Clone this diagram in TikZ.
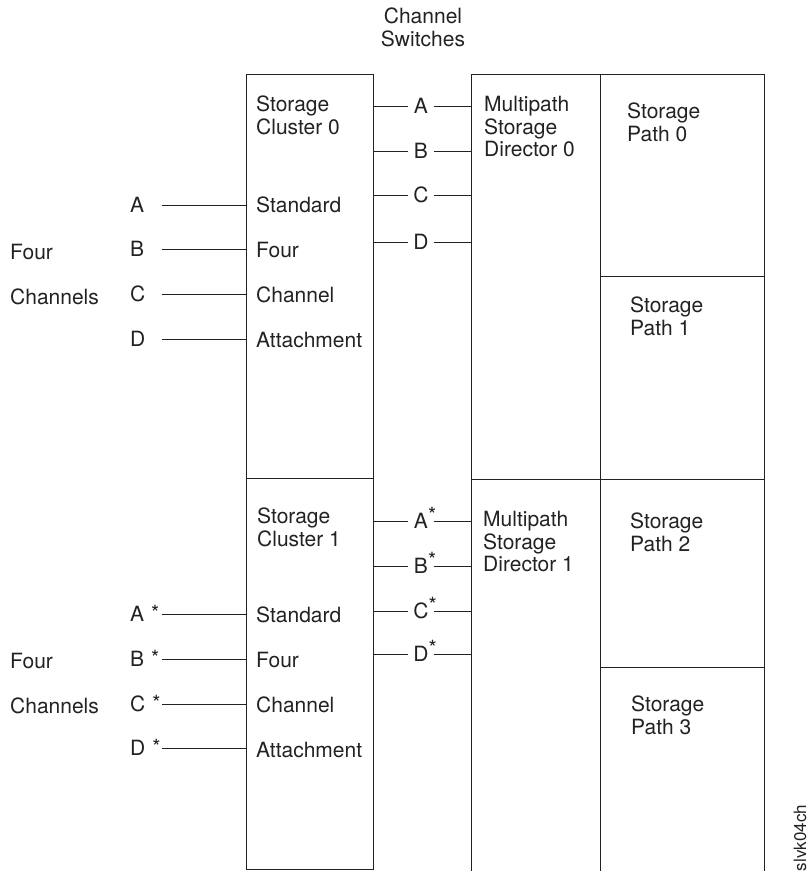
\documentclass[tikz,border=0pt]{standalone}
\usepackage{fontspec}
\setmainfont{TeX Gyre Heros}
\definecolor{ink}{HTML}{222222}
\begin{document}
\begin{tikzpicture}[x=1pt,y=-1pt,
  frame/.style={draw=ink, line width=1.1pt, inner sep=0pt, anchor=north west},
  wire/.style={draw=ink, line width=1pt},
  lbl/.style={text=ink, inner sep=0pt, font=\fontsize{21}{22.5}\selectfont,
              anchor=west, text height=15pt, text depth=0pt},
  blk/.style={text=ink, inner sep=0pt, font=\fontsize{21}{22.5}\selectfont,
              anchor=north west, align=left},
  chl/.style={lbl, text width=32pt, align=left},
  sw/.style={lbl, anchor=center, inner xsep=5.5pt}]
\useasboundingbox (0,0) rectangle (809,871);

% title over the switch column
\node[blk, anchor=north, align=center] (title) at (423,8) {Channel\\Switches};

% storage clusters
\node[frame, minimum width=127pt, minimum height=404pt] (cl0) at (246,74) {};
\node[frame, minimum width=127pt, minimum height=391pt] (cl1) at (246,478) {};
% storage directors
\node[frame, minimum width=129pt, minimum height=405pt] (dir0) at (471,74) {};
\node[frame, minimum width=129pt, minimum height=393pt] (dir1) at (471,479) {};
% storage paths
\node[frame, minimum width=164pt, minimum height=202pt] (sp0) at (600,74) {};
\node[frame, minimum width=164pt, minimum height=203pt] (sp1) at (600,276) {};
\node[frame, minimum width=164pt, minimum height=188pt] (sp2) at (600,479) {};
\node[frame, minimum width=164pt, minimum height=205pt] (sp3) at (600,667) {};

% box captions
\node[blk] (cl0t) at (256,96) {Storage\\Cluster 0};
\node[blk] (cl1t) at (257,508) {Storage\\Cluster 1};
\node[blk] (dir0t) at (484,96) {Multipath\\Storage\\Director 0};
\node[blk] (dir1t) at (483,511) {Multipath\\Storage\\Director 1};
\node[blk] (sp0t) at (627,103) {Storage\\Path 0};
\node[blk] (sp1t) at (630,297) {Storage\\Path 1};
\node[blk] (sp2t) at (630,513) {Storage\\Path 2};
\node[blk] (sp3t) at (631,696) {Storage\\Path 3};

% attachment captions inside the clusters
\node[lbl] (st0) at (256,205) {Standard};
\node[lbl] (fo0) at (256,250) {Four};
\node[lbl] (ch0) at (256,295) {Channel};
\node[lbl] (at0) at (256,340) {Attachment};
\node[lbl] (st1) at (256,615) {Standard};
\node[lbl] (fo1) at (256,660) {Four};
\node[lbl] (ch1) at (256,705) {Channel};
\node[lbl] (at1) at (256,750) {Attachment};

% group captions on the left
\node[lbl] (four0) at (10,252) {Four};
\node[lbl] (chs0) at (10,297) {Channels};
\node[lbl] (four1) at (10,661) {Four};
\node[lbl] (chs1) at (10,706) {Channels};

% host channels of cluster 0
\node[chl] (lA) at (130,205) {A};
\node[chl] (lB) at (130,249) {B};
\node[chl] (lC) at (130,294) {C};
\node[chl] (lD) at (130,339) {D};
% host channels of cluster 1
\node[chl] (lA1) at (130,614) {A\hspace{7pt}\raisebox{1.5pt}{*}};
\node[chl] (lB1) at (130,659) {B\hspace{7pt}\raisebox{1.5pt}{*}};
\node[chl] (lC1) at (130,704) {C\hspace{7pt}\raisebox{1.5pt}{*}};
\node[chl] (lD1) at (130,748) {D\hspace{7pt}\raisebox{1.5pt}{*}};
\foreach \n in {lA,lB,lC,lD}
  \draw[wire] (\n.east) -- (\n.east -| cl0.west);
\foreach \n in {lA1,lB1,lC1,lD1}
  \draw[wire] (\n.east) -- (\n.east -| cl1.west);

% channel switches between clusters and directors
\node[sw] (sA) at (421,106) {A};
\node[sw] (sB) at (421,151) {B};
\node[sw] (sC) at (421,195) {C};
\node[sw] (sD) at (421,242) {D};
\node[sw] (sA1) at (421,521) {A\rlap{\raisebox{6pt}{*}}};
\node[sw] (sB1) at (421,566) {B\rlap{\raisebox{6pt}{*}}};
\node[sw] (sC1) at (421,611) {C\rlap{\raisebox{6pt}{*}}};
\node[sw] (sD1) at (421,654) {D\rlap{\raisebox{6pt}{*}}};
\foreach \n in {sA,sB,sC,sD} {
  \draw[wire] (\n -| cl0.east) -- (\n.west);
  \draw[wire] (\n.east) -- (\n -| dir0.west);
}
\foreach \n in {sA1,sB1,sC1,sD1} {
  \draw[wire] (\n -| cl1.east) -- (\n.west);
  \draw[wire] (\n.east) -- (\n -| dir1.west);
}

% figure tag
\node[text=ink, inner sep=0pt, rotate=90, font=\fontsize{17}{17}\selectfont] (tag) at (800,838) {slvk04ch};
\end{tikzpicture}
\end{document}
